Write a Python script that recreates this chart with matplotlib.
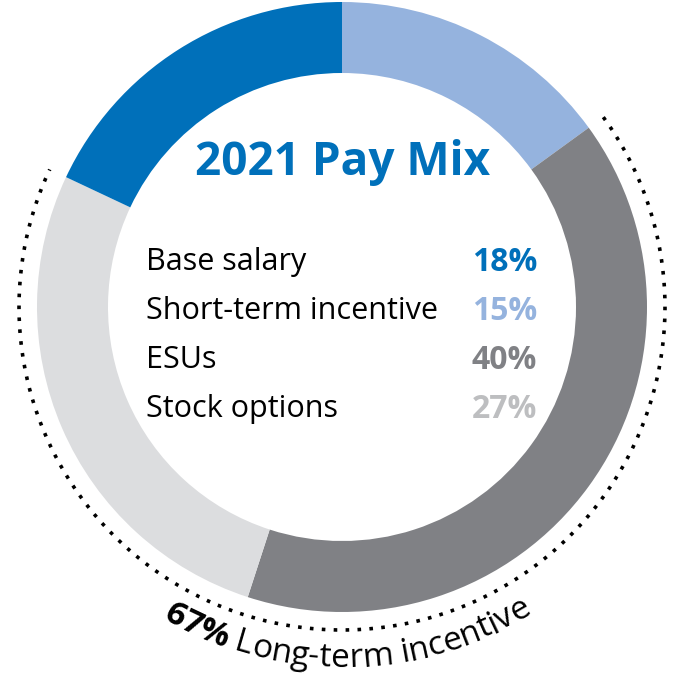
import matplotlib
matplotlib.use("Agg")
import matplotlib.pyplot as plt
import numpy as np

# Pay mix data (clockwise from 12 o'clock)
labels = ["Short-term incentive", "ESUs", "Stock options", "Base salary"]
shares = [15, 40, 27, 18]
colors = ["#95b3de", "#808185", "#dcdddf", "#0070ba"]

# Legend rows, in display order
legend_labels = ["Base salary", "Short-term incentive", "ESUs", "Stock options"]
legend_values = ["18%", "15%", "40%", "27%"]
legend_colors = ["#0070ba", "#95b3de", "#808185", "#bdbec0"]

title = "2021 Pay Mix"
lti_value = "67%"
lti_label = " Long-term incentive"

plt.rcParams['font.family'] = ['Open Sans', 'DejaVu Sans']

W = 691
fig = plt.figure(figsize=(6.91, 6.91), dpi=100)
ax = fig.add_axes([0, 0, 1, 1])

cx, cy = 342, W - 307
R = 305
ring = 71

ax.pie(shares, colors=colors, startangle=90, counterclock=False,
       radius=R, center=(cx, cy),
       wedgeprops=dict(width=ring, linewidth=0))

# dotted arc around the long-term incentive part
start = 90 - 360 * shares[0] / 100
end = start - 360 * (shares[1] + shares[2]) / 100
t = np.radians(np.linspace(start, end, 400))
rd = 323
ax.plot(cx + rd * np.cos(t), cy + rd * np.sin(t), color="black",
        linewidth=2.6, linestyle=(0, (1, 2.3)))

ax.set_xlim(0, W)
ax.set_ylim(0, W)
ax.set_aspect("equal")
ax.axis("off")

# title and legend
ax.text(cx + 1, W - 162, title, color="#0070ba", fontsize=33,
        fontweight="bold", ha="center", va="center")
row_y = [262, 311, 360, 409]
for lab, val, col, y in zip(legend_labels, legend_values, legend_colors, row_y):
    ax.text(146, W - y, lab, color="black", fontsize=22,
            ha="left", va="center")
    ax.text(537, W - y, val, color=col, fontsize=23, fontweight="bold",
            ha="right", va="center")

# curved label along the bottom
renderer = fig.canvas.get_renderer()
fs = 24
pieces = [(lti_value, "bold"), (lti_label, "normal")]


def width_of(s, weight):
    if not s:
        return 0.0
    tt = ax.text(0, 0, s, fontsize=fs, fontweight=weight)
    w = tt.get_window_extent(renderer).width
    tt.remove()
    return w

chars = []
offset = 0.0
for s, weight in pieces:
    for i, ch in enumerate(s):
        a = width_of(s[:i], weight)
        b = width_of(s[:i + 1], weight)
        chars.append((ch, weight, offset + (a + b) / 2))
    offset += width_of(s, weight)

rb = 360
mid = 271
for ch, weight, pos in chars:
    ang = np.radians(mid) + (pos - offset / 2) / rb
    x = cx + rb * np.cos(ang)
    y = cy + rb * np.sin(ang)
    ax.text(x, y, ch, fontsize=fs, fontweight=weight, color="black",
            rotation=np.degrees(ang) + 90, rotation_mode="anchor",
            ha="center", va="baseline")

fig.savefig("out.png", dpi=100)
